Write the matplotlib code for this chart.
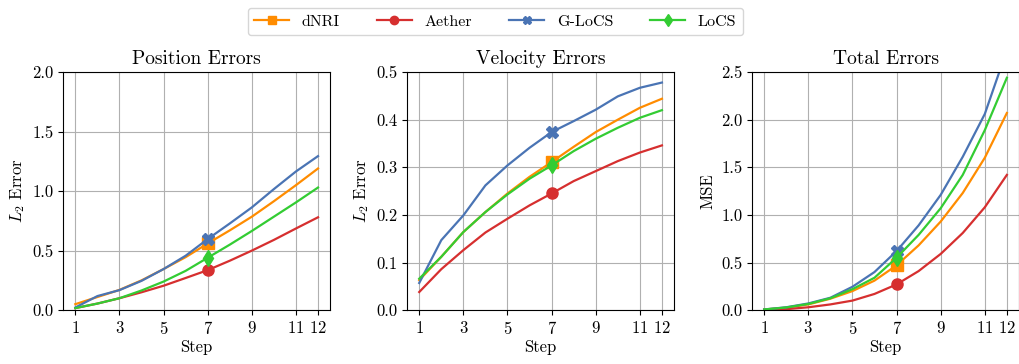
import numpy as np
import matplotlib
matplotlib.use("Agg")
import matplotlib.pyplot as plt

plt.rcParams['font.family'] = ['cmr10', 'DejaVu Serif']
plt.rcParams['mathtext.fontset'] = 'cm'
plt.rcParams['axes.formatter.use_mathtext'] = True

steps = list(range(1, 13))

# Position errors
pos_dnri = [0.05, 0.11, 0.17, 0.25, 0.345, 0.445, 0.56, 0.67, 0.785, 0.915, 1.05, 1.19]
pos_aether = [0.017, 0.055, 0.10, 0.15, 0.205, 0.27, 0.336, 0.415, 0.50, 0.59, 0.686, 0.78]
pos_glocs = [0.022, 0.118, 0.168, 0.246, 0.345, 0.457, 0.597, 0.728, 0.863, 1.017, 1.165, 1.294]
pos_locs = [0.017, 0.055, 0.10, 0.165, 0.24, 0.33, 0.44, 0.55, 0.665, 0.785, 0.905, 1.03]

# Velocity errors
vel_dnri = [0.063, 0.112, 0.164, 0.206, 0.245, 0.28, 0.311, 0.343, 0.374, 0.40, 0.425, 0.444]
vel_aether = [0.038, 0.086, 0.126, 0.163, 0.192, 0.22, 0.245, 0.271, 0.292, 0.313, 0.331, 0.346]
vel_glocs = [0.057, 0.147, 0.199, 0.262, 0.304, 0.341, 0.374, 0.397, 0.421, 0.449, 0.467, 0.478]
vel_locs = [0.066, 0.112, 0.164, 0.206, 0.243, 0.276, 0.304, 0.334, 0.36, 0.383, 0.404, 0.42]

# Total errors (MSE)
tot_dnri = [0.007, 0.025, 0.06, 0.12, 0.20, 0.31, 0.47, 0.68, 0.93, 1.23, 1.60, 2.07]
tot_aether = [0.003, 0.01, 0.03, 0.06, 0.10, 0.17, 0.27, 0.41, 0.59, 0.81, 1.08, 1.42]
tot_glocs = [0.007, 0.03, 0.07, 0.13, 0.245, 0.40, 0.62, 0.89, 1.21, 1.61, 2.06, 2.73]
tot_locs = [0.007, 0.028, 0.065, 0.125, 0.22, 0.34, 0.55, 0.79, 1.07, 1.42, 1.89, 2.44]

methods = ['dNRI', 'Aether', 'G-LoCS', 'LoCS']
colors = ['#ff8c00', '#d62f2f', '#4a74b4', '#33cc33']
markers = ['s', 'o', 'X', 'd']

panels = [
    ("Position Errors", "$L_2$ Error", [pos_dnri, pos_aether, pos_glocs, pos_locs], (0, 2.0), [0, 0.5, 1.0, 1.5, 2.0]),
    ("Velocity Errors", "$L_2$ Error", [vel_dnri, vel_aether, vel_glocs, vel_locs], (0, 0.5), [0, 0.1, 0.2, 0.3, 0.4, 0.5]),
    ("Total Errors", "MSE", [tot_dnri, tot_aether, tot_glocs, tot_locs], (0, 2.5), [0, 0.5, 1.0, 1.5, 2.0, 2.5]),
]

fig = plt.figure(figsize=(10.19, 3.64), dpi=100)
lefts = [0.062, 0.3995, 0.738]
handles = []
for i, (title, ylab, series, ylim, yticks) in enumerate(panels):
    ax = fig.add_axes([lefts[i], 0.148, 0.262, 0.654])
    for j, vals in enumerate(series):
        h, = ax.plot(steps, vals, color=colors[j], marker=markers[j], markevery=[6],
                     markersize=8, linewidth=1.6, label=methods[j])
        if i == 0:
            handles.append(h)
    ax.set_title(title, fontsize=14)
    ax.set_ylabel(ylab, fontsize=12)
    ax.set_xlabel("Step", fontsize=12, labelpad=2)
    ax.set_xticks([1, 3, 5, 7, 9, 11, 12])
    ax.set_ylim(*ylim)
    ax.set_yticks(yticks)
    ax.set_yticklabels(["%.1f" % v for v in yticks])
    ax.tick_params(labelsize=12)
    ax.grid(True, color='#b0b0b0', linewidth=0.8)

fig.legend(handles=handles, loc='upper center', bbox_to_anchor=(0.486, 1.0), ncol=4,
           fontsize=11.5, columnspacing=2.3, handlelength=2.2, markerscale=0.75, frameon=True)

fig.savefig("out.png", dpi=100)
